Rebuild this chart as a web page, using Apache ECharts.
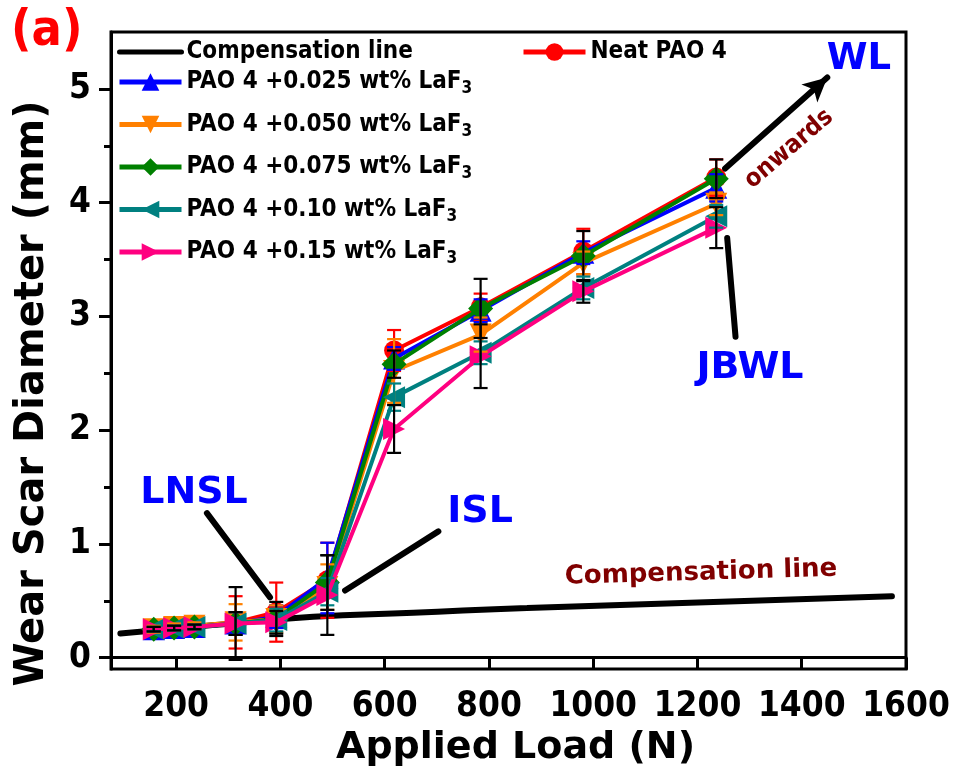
<!DOCTYPE html>
<html>
<head>
<meta charset="utf-8">
<script src="https://cdn.jsdelivr.net/npm/echarts@6/dist/echarts.min.js"></script>
<style>html,body{margin:0;padding:0;background:#fff}#c{width:957px;height:780px}</style>
</head>
<body>
<div id="c"></div>
<script>
// ---- data ----
const loads = [157, 196, 235, 314, 392, 490, 618, 784, 981, 1236];
const neat   = [0.25, 0.26, 0.27, 0.31, 0.40, 0.68, 2.70, 3.08, 3.57, 4.22];
const laf025 = [0.25, 0.26, 0.27, 0.30, 0.36, 0.70, 2.63, 3.05, 3.56, 4.13];
const laf050 = [0.25, 0.27, 0.28, 0.31, 0.34, 0.62, 2.52, 2.84, 3.47, 3.99];
const laf075 = [0.25, 0.26, 0.27, 0.30, 0.34, 0.66, 2.58, 3.07, 3.53, 4.21];
const laf10  = [0.25, 0.26, 0.27, 0.30, 0.33, 0.58, 2.29, 2.68, 3.25, 3.88];
const laf15  = [0.25, 0.26, 0.27, 0.30, 0.31, 0.55, 2.01, 2.65, 3.22, 3.78];
const errNeat   = [0.02, 0.02, 0.02, 0.23, 0.26, 0.33, 0.18, 0.12, 0.20, 0.16];
const err025    = [0.02, 0.02, 0.02, 0.10, 0.10, 0.31, 0.10, 0.10, 0.10, 0.12];
const err050    = [0.03, 0.03, 0.03, 0.16, 0.12, 0.20, 0.28, 0.15, 0.10, 0.10];
const err075    = [0.02, 0.02, 0.02, 0.32, 0.15, 0.24, 0.12, 0.26, 0.22, 0.17];
const err10     = [0.02, 0.02, 0.02, 0.10, 0.10, 0.12, 0.12, 0.10, 0.10, 0.10];
const err15     = [0.02, 0.02, 0.02, 0.10, 0.10, 0.35, 0.21, 0.28, 0.10, 0.18];
const compLoads = [93, 250, 463, 655, 873, 1573];
const compVals  = [0.213, 0.277, 0.359, 0.394, 0.437, 0.539];
const xTicks = [200, 400, 600, 800, 1000, 1200, 1400, 1600];
const yTicks = [0, 1, 2, 3, 4, 5];
const yMinorTicks = [0.5, 1.5, 2.5, 3.5, 4.5];

const FONT = '"DejaVu Sans Condensed", "DejaVu Sans", sans-serif';
const WFONT = '"DejaVu Sans", sans-serif';
const DARKRED = '#800000';

const seriesDefs = [
  {name: 'Neat PAO 4', vals: neat, err: errNeat, color: '#FF0000', errColor: '#FF0000', symbol: 'circle', rot: 0, size: 20},
  {name: 'PAO 4 +0.025 wt% LaF3', vals: laf025, err: err025, color: '#0000FF', errColor: '#0000FF', symbol: 'triangle', rot: 0, size: 22},
  {name: 'PAO 4 +0.050 wt% LaF3', vals: laf050, err: err050, color: '#FF8000', errColor: '#FF8000', symbol: 'triangle', rot: 180, size: 22},
  {name: 'PAO 4 +0.075 wt% LaF3', vals: laf075, err: err075, color: '#008000', errColor: '#000000', symbol: 'diamond', rot: 0, size: 25},
  {name: 'PAO 4 +0.10 wt% LaF3', vals: laf10, err: err10, color: '#008080', errColor: '#008080', symbol: 'triangle', rot: 90, size: 22},
  {name: 'PAO 4 +0.15 wt% LaF3', vals: laf15, err: err15, color: '#FF0080', errColor: '#000000', symbol: 'triangle', rot: -90, size: 22}
];

const series = [];
series.push({
  name: 'Compensation line', type: 'line', smooth: true, symbol: 'none',
  data: compLoads.map((x, i) => [x, compVals[i]]),
  lineStyle: {color: '#000', width: 6, cap: 'round'}, itemStyle: {color: '#000'},
  z: 1,
  markLine: {
    silent: true, symbol: ['none', 'none'], animation: false,
    lineStyle: {color: '#000', width: 6, type: 'solid', cap: 'round'},
    label: {show: false},
    data: [
      [{coord: [1253, 4.30]}, {coord: [1449, 5.10], symbol: 'arrow', symbolSize: [18, 24]}],
      [{coord: [259, 1.27]}, {coord: [380, 0.53]}],
      [{coord: [703, 1.11]}, {coord: [524, 0.59]}],
      [{coord: [1257, 3.69]}, {coord: [1273, 2.82]}]
    ]
  }
});
seriesDefs.forEach((s, k) => {
  series.push({
    name: s.name, type: 'line', symbol: s.symbol, symbolSize: s.size, symbolRotate: s.rot,
    data: loads.map((x, i) => [x, s.vals[i]]),
    lineStyle: {color: s.color, width: 4}, itemStyle: {color: s.color},
    z: 2 + k
  });
});
seriesDefs.forEach((s, k) => {
  series.push({
    name: s.name, type: 'custom', z: 10 + k,
    data: loads.map((x, i) => [x, s.vals[i], s.err[i]]),
    renderItem: function (params, api) {
      const x = api.value(0), y = api.value(1), e = api.value(2);
      const top = api.coord([x, y + e]);
      const bot = api.coord([x, y - e]);
      const hw = 7;
      const st = {stroke: s.errColor, lineWidth: 2.2};
      return {type: 'group', children: [
        {type: 'line', shape: {x1: top[0], y1: top[1], x2: bot[0], y2: bot[1]}, style: st},
        {type: 'line', shape: {x1: top[0] - hw, y1: top[1], x2: top[0] + hw, y2: top[1]}, style: st},
        {type: 'line', shape: {x1: bot[0] - hw, y1: bot[1], x2: bot[0] + hw, y2: bot[1]}, style: st}
      ]};
    }
  });
});

function legendFmt(name) {
  if (name.endsWith('LaF3')) return name.slice(0, -1) + '{s|3}';
  return name;
}
const legendText = {
  fontFamily: FONT, fontWeight: 'bold', fontSize: 24, color: '#000',
  rich: {s: {fontFamily: FONT, fontWeight: 'bold', fontSize: 17, color: '#000', padding: [14, 0, 0, 0]}}
};
const legendBase = {orient: 'vertical', padding: 0, itemWidth: 62, itemHeight: 22, lineStyle: {width: 5},
                    formatter: legendFmt, textStyle: legendText, selectedMode: false};

const chart = echarts.init(document.getElementById('c'), null, {renderer: 'canvas'});
chart.setOption({
  animation: false,
  backgroundColor: '#fff',
  grid: {left: 111, right: 51, top: 32, bottom: 111, show: true, borderColor: '#000', borderWidth: 3},
  legend: [
    Object.assign({}, legendBase, {left: 117, top: 40,
      data: [{name: 'Compensation line', itemStyle: {opacity: 0}}]}),
    Object.assign({}, legendBase, {left: 117, top: 70, itemGap: 15,
      data: ['PAO 4 +0.025 wt% LaF3', 'PAO 4 +0.050 wt% LaF3', 'PAO 4 +0.075 wt% LaF3', 'PAO 4 +0.10 wt% LaF3', 'PAO 4 +0.15 wt% LaF3']}),
    Object.assign({}, legendBase, {left: 521, top: 40, data: ['Neat PAO 4']})
  ],
  xAxis: {
    type: 'value', min: 75, max: 1600,
    name: 'Applied Load (N)', nameLocation: 'middle', nameGap: 56,
    nameTextStyle: {fontFamily: WFONT, fontWeight: 'bold', fontSize: 38, color: '#000', padding: [0, 0, 0, 14]},
    axisLine: {lineStyle: {color: '#000', width: 3}},
    axisTick: {show: true, inside: false, length: 12, lineStyle: {width: 3, color: '#000'}, customValues: xTicks},
    axisLabel: {margin: 20, fontFamily: FONT, fontWeight: 'bold', fontSize: 35, color: '#000', customValues: xTicks,
                formatter: v => String(v)},
    splitLine: {show: false}
  },
  yAxis: [
    {
      type: 'value', min: -0.1, max: 5.5,
      name: 'Wear Scar Diameter (mm)', nameLocation: 'middle', nameGap: 58,
      nameTextStyle: {fontFamily: WFONT, fontWeight: 'bold', fontSize: 40, color: '#000', padding: [0, 86, 0, 0]},
      axisLine: {lineStyle: {color: '#000', width: 3}},
      axisTick: {show: true, inside: false, length: 12, lineStyle: {width: 3, color: '#000'}, customValues: yTicks},
      axisLabel: {margin: 20, fontFamily: FONT, fontWeight: 'bold', fontSize: 35, color: '#000', customValues: yTicks,
                  formatter: v => String(v)},
      splitLine: {show: false}
    },
    {
      type: 'value', min: -0.1, max: 5.5, position: 'left',
      axisLine: {show: false},
      axisTick: {show: true, inside: false, length: 7, lineStyle: {width: 3, color: '#000'}, customValues: yMinorTicks},
      axisLabel: {show: false}, splitLine: {show: false}
    }
  ],
  series: series,
  graphic: [
    {type: 'text', left: 11, top: 7, style: {text: '(a)', font: 'bold 50px ' + FONT, fill: '#FF0000'}},
    {type: 'text', x: 859, y: 59, style: {text: 'WL', font: 'bold 37px ' + WFONT, fill: '#0000FF', align: 'center', verticalAlign: 'middle'}},
    {type: 'text', x: 789, y: 149, rotation: 40.5 * Math.PI / 180, style: {text: 'onwards', font: 'bold 25px ' + FONT, fill: DARKRED, align: 'center', verticalAlign: 'middle'}},
    {type: 'text', x: 750, y: 368, style: {text: 'JBWL', font: 'bold 38px ' + WFONT, fill: '#0000FF', align: 'center', verticalAlign: 'middle'}},
    {type: 'text', x: 194, y: 493, style: {text: 'LNSL', font: 'bold 38px ' + WFONT, fill: '#0000FF', align: 'center', verticalAlign: 'middle'}},
    {type: 'text', x: 480, y: 512, style: {text: 'ISL', font: 'bold 38px ' + WFONT, fill: '#0000FF', align: 'center', verticalAlign: 'middle'}},
    {type: 'text', x: 701, y: 573, rotation: 1.7 * Math.PI / 180, style: {text: 'Compensation line', font: 'bold 26px ' + WFONT, fill: DARKRED, align: 'center', verticalAlign: 'middle'}}
  ]
});
</script>
</body>
</html>
